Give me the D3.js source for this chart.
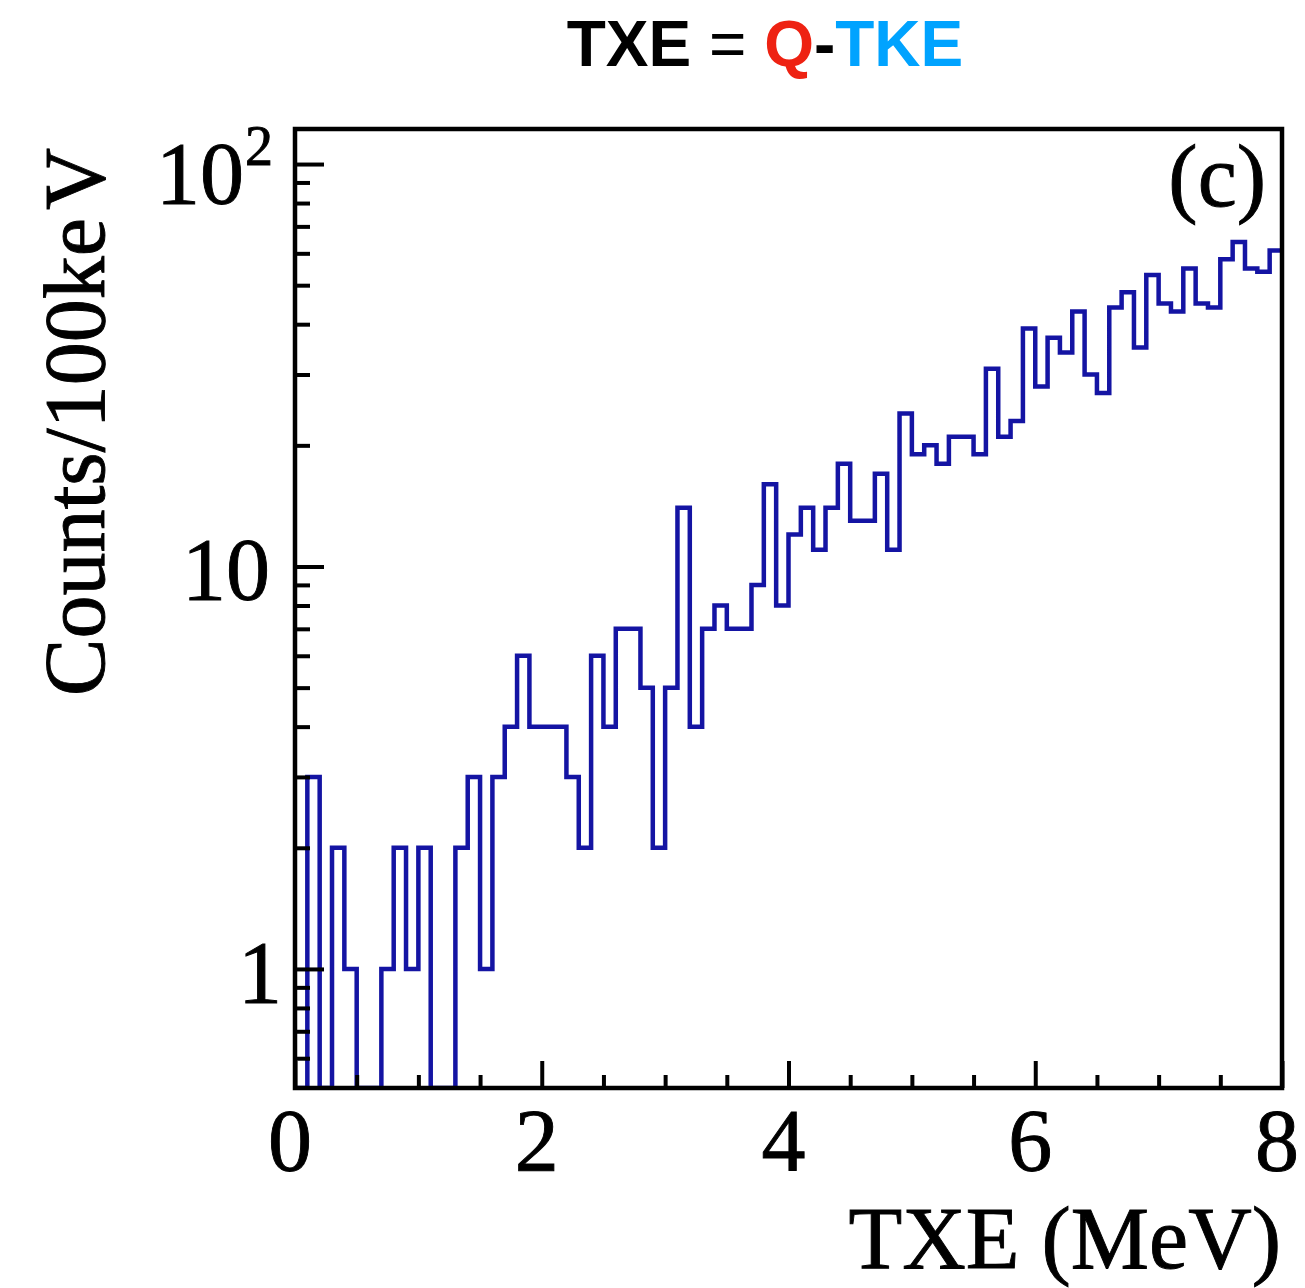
<!DOCTYPE html>
<html>
<head>
<meta charset="utf-8">
<script src="https://cdn.jsdelivr.net/npm/d3@7"></script>
<style>
  body { margin: 0; background: #fff; }
  svg { display: block; }
  .serif { font-family: "Liberation Serif", "Times New Roman", serif; stroke: #000; stroke-width: 0.9px; }
</style>
</head>
<body>
<svg></svg>
<script>
const size = {w: 1305, h: 1288};
const plot = {l: 295, r: 1282, t: 129, b: 1088};

// histogram: counts per 100 keV bin, TXE from 0 to 8 MeV
const binWidth = 0.1;
const counts = [
  0, 3, 0, 2, 1, 0, 0, 1, 2, 1,
  2, 0, 0, 2, 3, 1, 3, 4, 6, 4,
  4, 4, 3, 2, 6, 4, 7, 7, 5, 2,
  5, 14, 4, 7, 8, 7, 7, 9, 16, 8,
  12, 14, 11, 14, 18, 13, 13, 17, 11, 24,
  19, 20, 18, 21, 21, 19, 31, 21, 23, 39,
  28, 37, 34, 43, 30, 27, 44, 48, 35, 53,
  45, 43, 55, 45, 44, 58, 64, 55, 54, 61
];

const xMajor = [0, 2, 4, 6, 8];
const xMinor = [0.5, 1, 1.5, 2.5, 3, 3.5, 4.5, 5, 5.5, 6.5, 7, 7.5];
const yMajor = [1, 10, 100];
const yMinor = [0.6, 0.7, 0.8, 0.9, 2, 3, 4, 5, 6, 7, 8, 9, 20, 30, 40, 50, 60, 70, 80, 90];

const svg = d3.select('svg')
    .attr('width', size.w)
    .attr('height', size.h);

const x = d3.scaleLinear().domain([0, 8]).range([plot.l, plot.r]);
const y = d3.scaleLog().domain([0.506, 122.2]).range([plot.b, plot.t]);

// clip the histogram to the frame
svg.append('clipPath').attr('id', 'frame')
  .append('rect')
    .attr('x', plot.l).attr('y', plot.t)
    .attr('width', plot.r - plot.l).attr('height', plot.b - plot.t);

// step points: each bin's left edge, then a closing point at the right edge
let steps = counts.map((c, i) => ({e: i * binWidth, c: c}));
steps.push({e: counts.length * binWidth, c: counts[counts.length - 1]});

const line = d3.line()
    .x(d => x(d.e))
    .y(d => y(Math.max(d.c, y.domain()[0])))
    .curve(d3.curveStepAfter);

svg.append('path')
    .datum(steps)
    .attr('clip-path', 'url(#frame)')
    .attr('fill', 'none')
    .attr('stroke', '#1414a3')
    .attr('stroke-width', 4.5)
    .attr('d', line);

// ticks drawn inside the frame
function tickAxis(axis, tr) {
  const g = svg.append('g').attr('transform', tr).call(axis);
  g.select('.domain').remove();
  g.selectAll('line').attr('stroke', '#000').attr('stroke-width', 4);
  g.selectAll('text').remove();
}
tickAxis(d3.axisLeft(y).tickValues(yMajor).tickSize(-29), `translate(${plot.l},0)`);
tickAxis(d3.axisLeft(y).tickValues(yMinor).tickSize(-15), `translate(${plot.l},0)`);
tickAxis(d3.axisBottom(x).tickValues(xMajor).tickSize(-27), `translate(0,${plot.b})`);
tickAxis(d3.axisBottom(x).tickValues(xMinor).tickSize(-13), `translate(0,${plot.b})`);

// frame
svg.append('rect')
    .attr('x', plot.l).attr('y', plot.t)
    .attr('width', plot.r - plot.l).attr('height', plot.b - plot.t)
    .attr('fill', 'none')
    .attr('stroke', '#000')
    .attr('stroke-width', 4.5);

// x tick labels
svg.append('g').selectAll('text')
  .data(xMajor)
  .join('text')
    .attr('class', 'serif')
    .attr('x', d => x(d) - 5)
    .attr('y', 1170)
    .attr('text-anchor', 'middle')
    .style('font-size', '88px')
    .text(d => d);

// y tick labels
svg.append('text').attr('class', 'serif')
    .attr('x', 282).attr('y', y(1) + 33)
    .attr('text-anchor', 'end')
    .style('font-size', '88px')
    .text('1');
svg.append('text').attr('class', 'serif')
    .attr('x', 270).attr('y', y(10) + 33)
    .attr('text-anchor', 'end')
    .style('font-size', '88px')
    .text('10');
svg.append('text').attr('class', 'serif')
    .attr('x', 244).attr('y', y(100) + 39)
    .attr('text-anchor', 'end')
    .style('font-size', '88px')
    .text('10');
svg.append('text').attr('class', 'serif')
    .attr('x', 245).attr('y', y(100) + 1)
    .style('font-size', '56px')
    .text('2');

// axis titles
svg.append('text').attr('class', 'serif')
    .attr('transform', 'translate(104,148) rotate(-90)')
    .attr('text-anchor', 'end')
    .style('font-size', '86px')
    .text('Counts/100ke')
  .append('tspan')
    .attr('dx', 8)
    .text('V');

svg.append('text').attr('class', 'serif')
    .attr('x', 1281).attr('y', 1268)
    .attr('text-anchor', 'end')
    .style('font-size', '88px')
    .text('TXE (MeV)');

// panel label
svg.append('text').attr('class', 'serif')
    .attr('x', 1266).attr('y', 206)
    .attr('text-anchor', 'end')
    .style('font-size', '88px')
    .text('(c)');

// title
const title = svg.append('text')
    .attr('x', 765).attr('y', 66)
    .attr('text-anchor', 'middle')
    .style('font-family', '"Liberation Sans", Arial, sans-serif')
    .style('font-weight', 'bold')
    .style('font-size', '64px');
title.append('tspan').attr('fill', '#000').text('TXE ');
title.append('tspan').attr('fill', '#000').style('font-weight', 'normal').text('=');
title.append('tspan').attr('fill', '#000').text(' ');
title.append('tspan').attr('fill', '#ee2212').text('Q');
title.append('tspan').attr('fill', '#000').text('-');
title.append('tspan').attr('fill', '#00a3ff').text('TKE');
</script>
</body>
</html>
